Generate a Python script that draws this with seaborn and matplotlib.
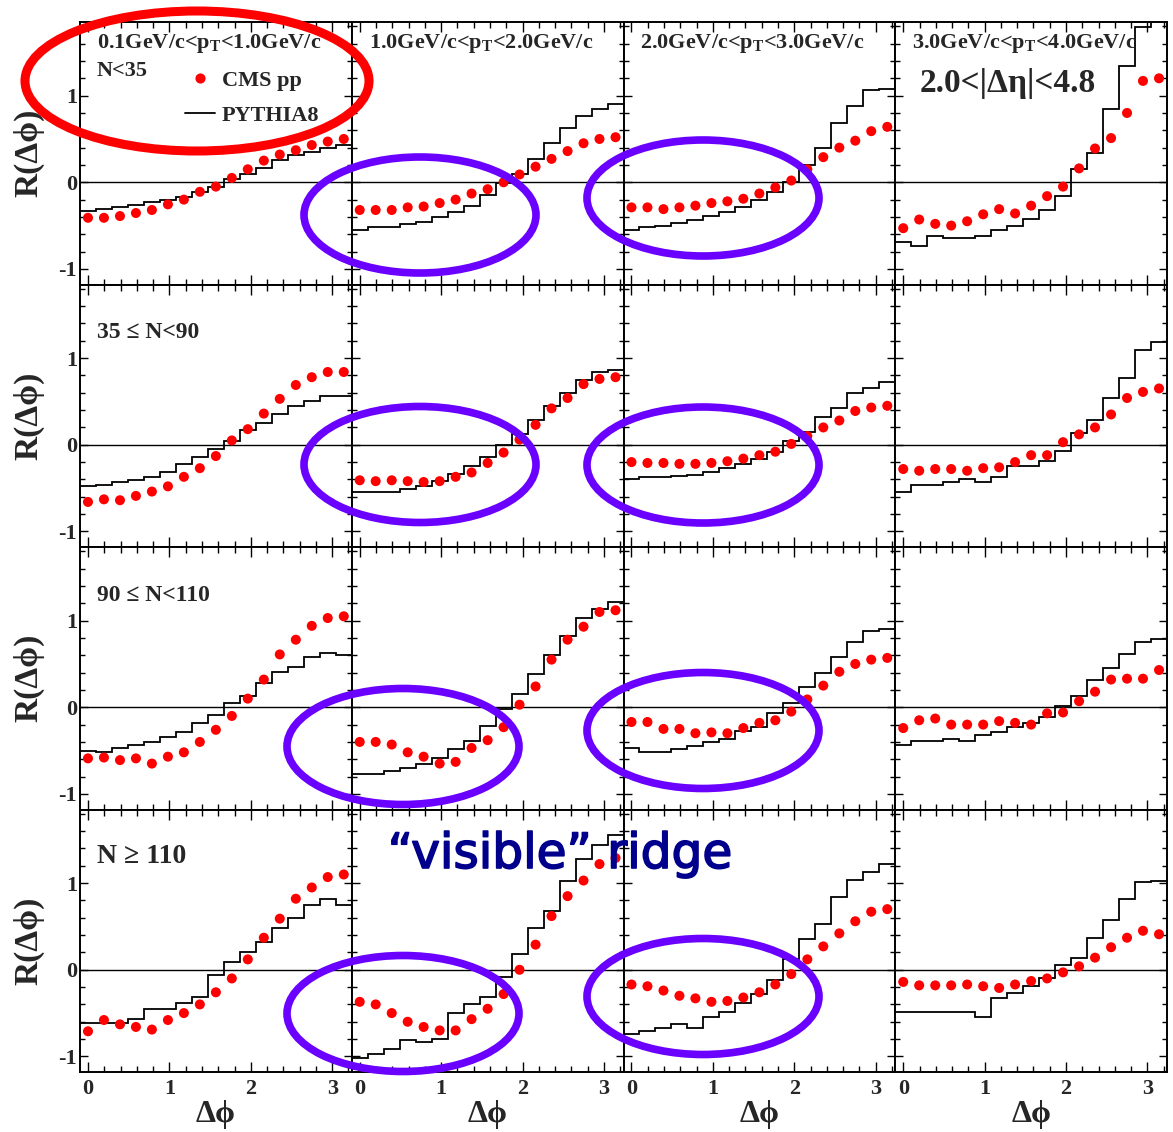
import numpy as np
import pandas as pd
import matplotlib
matplotlib.use("Agg")
import matplotlib.pyplot as plt
import seaborn as sns
from matplotlib.patches import Ellipse
from matplotlib.lines import Line2D
from matplotlib.ticker import MultipleLocator
import matplotlib.patheffects as pe

# ---------------- data ----------------
dphi = [0.0, 0.196, 0.393, 0.589, 0.785, 0.982, 1.178, 1.374, 1.571,
        1.767, 1.963, 2.160, 2.356, 2.553, 2.749, 2.945, 3.142]

pt_labels = [r"0.1GeV/c<p$_{\rm T}$<1.0GeV/c", r"1.0GeV/c<p$_{\rm T}$<2.0GeV/c",
             r"2.0GeV/c<p$_{\rm T}$<3.0GeV/c", r"3.0GeV/c<p$_{\rm T}$<4.0GeV/c"]
mult_labels = ["N<35", "35 \u2264 N<90", "90 \u2264 N<110", "N \u2265 110"]

# N < 35
cms_1_1 = [-0.41, -0.41, -0.39, -0.355, -0.32, -0.255, -0.20, -0.11, -0.05, 0.05, 0.15, 0.25, 0.32, 0.37, 0.43, 0.47, 0.50]
pyt_1_1 = [-0.33, -0.31, -0.29, -0.26, -0.23, -0.20, -0.17, -0.11, -0.06, 0.04, 0.10, 0.17, 0.26, 0.32, 0.35, 0.40, 0.43]
cms_1_2 = [-0.32, -0.32, -0.32, -0.29, -0.28, -0.24, -0.20, -0.13, -0.08, 0.0, 0.09, 0.18, 0.27, 0.36, 0.45, 0.50, 0.52]
pyt_1_2 = [-0.55, -0.52, -0.52, -0.48, -0.46, -0.40, -0.34, -0.27, -0.15, -0.01, 0.10, 0.27, 0.45, 0.63, 0.76, 0.85, 0.90]
cms_1_3 = [-0.29, -0.29, -0.31, -0.29, -0.27, -0.24, -0.22, -0.19, -0.13, -0.06, 0.02, 0.15, 0.29, 0.40, 0.48, 0.59, 0.64]
pyt_1_3 = [-0.55, -0.52, -0.50, -0.47, -0.43, -0.39, -0.34, -0.29, -0.21, -0.11, 0.0, 0.20, 0.40, 0.68, 0.88, 1.06, 1.08]
cms_1_4 = [-0.53, -0.43, -0.48, -0.50, -0.45, -0.37, -0.31, -0.36, -0.27, -0.16, -0.05, 0.16, 0.39, 0.51, 0.80, 1.17, 1.20]
pyt_1_4 = [-0.69, -0.74, -0.62, -0.64, -0.64, -0.62, -0.55, -0.50, -0.42, -0.32, -0.16, 0.15, 0.34, 0.84, 1.34, 1.79, 1.95]

# 35 <= N < 90
cms_2_1 = [-0.66, -0.63, -0.64, -0.59, -0.54, -0.48, -0.37, -0.27, -0.13, 0.05, 0.18, 0.36, 0.53, 0.69, 0.78, 0.84, 0.84]
pyt_2_1 = [-0.48, -0.46, -0.43, -0.41, -0.37, -0.32, -0.22, -0.14, -0.05, 0.04, 0.17, 0.25, 0.36, 0.45, 0.50, 0.56, 0.56]
cms_2_2 = [-0.41, -0.42, -0.41, -0.42, -0.43, -0.42, -0.37, -0.32, -0.21, -0.09, 0.06, 0.23, 0.42, 0.54, 0.70, 0.76, 0.78]
pyt_2_2 = [-0.55, -0.55, -0.55, -0.51, -0.48, -0.42, -0.34, -0.25, -0.14, 0.0, 0.12, 0.29, 0.45, 0.60, 0.75, 0.84, 0.86]
cms_2_3 = [-0.20, -0.21, -0.21, -0.22, -0.22, -0.21, -0.19, -0.16, -0.12, -0.08, 0.01, 0.10, 0.20, 0.28, 0.39, 0.43, 0.45]
pyt_2_3 = [-0.40, -0.37, -0.37, -0.36, -0.35, -0.32, -0.27, -0.22, -0.16, -0.08, 0.04, 0.15, 0.32, 0.43, 0.60, 0.65, 0.72]
cms_2_4 = [-0.28, -0.30, -0.28, -0.28, -0.30, -0.27, -0.26, -0.20, -0.12, -0.12, 0.03, 0.12, 0.20, 0.35, 0.54, 0.61, 0.65]
pyt_2_4 = [-0.55, -0.46, -0.46, -0.43, -0.40, -0.43, -0.37, -0.25, -0.25, -0.19, -0.07, 0.14, 0.29, 0.54, 0.77, 1.09, 1.19]

# 90 <= N < 110
cms_3_1 = [-0.59, -0.58, -0.61, -0.59, -0.65, -0.57, -0.52, -0.40, -0.26, -0.10, 0.10, 0.32, 0.61, 0.78, 0.94, 1.03, 1.05]
pyt_3_1 = [-0.50, -0.52, -0.47, -0.43, -0.40, -0.34, -0.29, -0.18, -0.09, 0.05, 0.13, 0.28, 0.41, 0.47, 0.58, 0.63, 0.60]
cms_3_2 = [-0.40, -0.40, -0.43, -0.52, -0.57, -0.65, -0.63, -0.47, -0.38, -0.23, 0.03, 0.24, 0.55, 0.78, 0.93, 1.10, 1.12]
pyt_3_2 = [-0.77, -0.77, -0.74, -0.70, -0.65, -0.59, -0.48, -0.39, -0.22, -0.02, 0.15, 0.38, 0.60, 0.82, 1.03, 1.14, 1.22]
cms_3_3 = [-0.17, -0.17, -0.25, -0.25, -0.30, -0.29, -0.30, -0.24, -0.18, -0.15, -0.05, 0.09, 0.25, 0.41, 0.50, 0.55, 0.57]
pyt_3_3 = [-0.47, -0.52, -0.52, -0.48, -0.45, -0.40, -0.37, -0.27, -0.23, -0.07, 0.05, 0.23, 0.40, 0.58, 0.75, 0.88, 0.90]
cms_3_4 = [-0.24, -0.15, -0.13, -0.20, -0.20, -0.20, -0.16, -0.18, -0.20, -0.07, -0.06, 0.07, 0.18, 0.32, 0.33, 0.33, 0.43]
pyt_3_4 = [-0.43, -0.39, -0.39, -0.37, -0.39, -0.32, -0.29, -0.23, -0.18, -0.11, 0.01, 0.13, 0.32, 0.45, 0.62, 0.75, 0.79]

# N >= 110
cms_4_1 = [-0.71, -0.58, -0.63, -0.66, -0.69, -0.58, -0.50, -0.40, -0.26, -0.10, 0.12, 0.37, 0.59, 0.82, 0.95, 1.07, 1.10]
pyt_4_1 = [-0.62, -0.62, -0.62, -0.57, -0.45, -0.45, -0.38, -0.31, -0.06, 0.09, 0.21, 0.32, 0.48, 0.60, 0.75, 0.82, 0.75]
cms_4_2 = [-0.37, -0.40, -0.50, -0.60, -0.66, -0.70, -0.70, -0.57, -0.45, -0.28, 0.0, 0.29, 0.62, 0.85, 1.03, 1.22, 1.29]
pyt_4_2 = [-1.02, -0.97, -0.92, -0.81, -0.83, -0.80, -0.50, -0.40, -0.31, -0.08, 0.18, 0.48, 0.68, 1.02, 1.28, 1.44, 1.56]
cms_4_3 = [-0.17, -0.19, -0.24, -0.30, -0.33, -0.37, -0.36, -0.32, -0.26, -0.17, -0.05, 0.12, 0.27, 0.42, 0.56, 0.67, 0.70]
pyt_4_3 = [-0.74, -0.71, -0.67, -0.63, -0.67, -0.54, -0.49, -0.38, -0.28, -0.12, 0.13, 0.35, 0.53, 0.84, 1.04, 1.13, 1.22]
cms_4_4 = [-0.14, -0.18, -0.18, -0.18, -0.17, -0.19, -0.21, -0.17, -0.13, -0.10, -0.03, 0.04, 0.14, 0.26, 0.37, 0.45, 0.41]
pyt_4_4 = [-0.49, -0.49, -0.49, -0.49, -0.49, -0.54, -0.33, -0.27, -0.19, -0.10, 0.05, 0.14, 0.37, 0.58, 0.82, 1.01, 1.02]

cms_rows = [[cms_1_1, cms_1_2, cms_1_3, cms_1_4],
            [cms_2_1, cms_2_2, cms_2_3, cms_2_4],
            [cms_3_1, cms_3_2, cms_3_3, cms_3_4],
            [cms_4_1, cms_4_2, cms_4_3, cms_4_4]]
pyt_rows = [[pyt_1_1, pyt_1_2, pyt_1_3, pyt_1_4],
            [pyt_2_1, pyt_2_2, pyt_2_3, pyt_2_4],
            [pyt_3_1, pyt_3_2, pyt_3_3, pyt_3_4],
            [pyt_4_1, pyt_4_2, pyt_4_3, pyt_4_4]]

# bin edges from bin centres
centers = np.array(dphi)
half = (centers[1] - centers[0]) / 2
edges = np.concatenate([[centers[0] - half], (centers[:-1] + centers[1:]) / 2, [centers[-1] + half]])

# ---------------- style ----------------
sns.set_theme(style="ticks")
SERIF = ['Liberation Serif', 'DejaVu Serif']
plt.rcParams['font.family'] = SERIF
plt.rcParams['font.weight'] = 'bold'
plt.rcParams['mathtext.fontset'] = 'custom'
plt.rcParams['mathtext.rm'] = 'Liberation Serif:bold'
plt.rcParams['mathtext.it'] = 'Liberation Serif:italic:bold'
plt.rcParams['mathtext.bf'] = 'Liberation Serif:bold'
plt.rcParams['axes.unicode_minus'] = False

W, H = 1173, 1132
fig, axes = plt.subplots(4, 4, figsize=(W / 100, H / 100), dpi=100, sharex=True, sharey=True)
fig.patch.set_facecolor('white')
fig.subplots_adjust(left=80 / W, right=1167 / W, top=1 - 22 / H, bottom=1 - 1072 / H,
                    wspace=0, hspace=0)

RED = '#ff0000'
for r in range(4):
    for c in range(4):
        ax = axes[r, c]
        ax.set_facecolor('white')
        df = pd.DataFrame({'dphi': dphi, 'R': cms_rows[r][c]})
        ax.axhline(0, color='black', lw=1.0, zorder=1)
        ax.stairs(pyt_rows[r][c], edges, baseline=None, color='black', lw=1.3, zorder=2)
        sns.scatterplot(data=df, x='dphi', y='R', ax=ax, color=RED, s=52,
                        linewidth=0, edgecolor='none', zorder=3, legend=False)
        ax.set_xlim(edges[0], edges[-1])
        ax.set_ylim(-1.18, 1.85)
        ax.xaxis.set_major_locator(MultipleLocator(1))
        ax.xaxis.set_minor_locator(MultipleLocator(0.2))
        ax.yaxis.set_major_locator(MultipleLocator(1))
        ax.yaxis.set_minor_locator(MultipleLocator(0.2))
        ax.tick_params(which='both', direction='in', top=True, right=True,
                       width=1.0, color='black', labelsize=16)
        ax.tick_params(axis='x', which='major', length=7, pad=5)
        ax.tick_params(axis='x', which='minor', length=4)
        ax.tick_params(axis='y', which='major', length=6, pad=2)
        ax.tick_params(axis='y', which='minor', length=3.5)
        for sp in ax.spines.values():
            sp.set_linewidth(1.4)
            sp.set_color('black')
        ax.set_xlabel('')
        ax.set_ylabel('')
        if c == 0:
            ax.set_ylabel('R(\u0394\u03d5)', fontsize=24, fontweight='bold')
            ax.yaxis.set_label_coords(-0.13, 0.5)
        if r == 3:
            ax.set_xlabel('\u0394\u03d5', fontsize=23, fontweight='bold')
            ax.xaxis.set_label_coords(0.5, -0.108)
        if r == 0:
            ax.text(0.062, 0.901, pt_labels[c], transform=ax.transAxes, fontsize=16,
                    fontweight='bold', ha='left', va='baseline', zorder=5)

# multiplicity labels
mult_sizes = [16, 17, 17, 20]
for r in range(4):
    axes[r, 0].text(0.063, 0.796, mult_labels[r], transform=axes[r, 0].transAxes,
                    fontsize=mult_sizes[r], fontweight='bold', ha='left', va='baseline', zorder=5)

axes[0, 3].text(0.091, 0.733, '2.0<|\u0394\u03b7|<4.8', transform=axes[0, 3].transAxes,
                fontsize=24, fontweight='bold', ha='left', va='baseline', zorder=5)

# legend
handles = [Line2D([], [], marker='o', color=RED, linestyle='none', markersize=7.3, markeredgewidth=0),
           Line2D([], [], color='black', lw=1.3)]
axes[0, 0].legend(handles, ['CMS pp', 'PYTHIA8'], loc='upper left', bbox_to_anchor=(0.386, 0.815),
                  frameon=False, borderpad=0, borderaxespad=0, handlelength=1.36,
                  handletextpad=0.3, labelspacing=0.65,
                  prop={'family': SERIF, 'weight': 'bold', 'size': 16})

# annotation ellipses (pixel geometry)
def add_ellipse(cx, cy, w, h, color, lw):
    e = Ellipse((cx / W, 1 - cy / H), w / W, h / H, transform=fig.transFigure,
                fill=False, edgecolor=color, linewidth=lw, zorder=20, clip_on=False)
    fig.add_artist(e)

add_ellipse(197, 81, 344, 140, '#ff0000', 6.5)
PURPLE = '#6a00ff'
for (cx, cy) in [(420, 215), (703, 198), (420, 464.5), (703, 465),
                 (403, 746.5), (703, 730.5), (403, 1013.5), (703, 996.5)]:
    add_ellipse(cx, cy, 232, 116, PURPLE, 5.5)

fig.text(560 / W, 1 - 868 / H, '\u201cvisible\u201d ridge', color='#00008c', fontsize=35,
         family=['DejaVu Sans'], fontweight='normal', ha='center', va='baseline', zorder=25,
         path_effects=[pe.withStroke(linewidth=1.2, foreground='#00008c')])

fig.savefig('out.png', dpi=100, facecolor='white')
